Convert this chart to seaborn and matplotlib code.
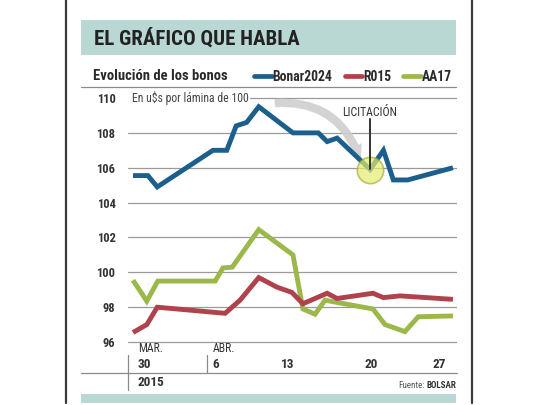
import matplotlib
matplotlib.use("Agg")
import matplotlib.pyplot as plt
import matplotlib.transforms as mtransforms
import seaborn as sns
import pandas as pd
from matplotlib.patches import Rectangle, FancyArrowPatch
from matplotlib.lines import Line2D

# ---- data (x = days since 30 March 2015) ----
bonar_days = [0, 1.35, 2.2, 7.25, 8.5, 9.35, 10.3, 11.4, 14.5, 16.8, 17.6, 18.5, 21.5, 22.7, 23.6, 24.9, 29.0]
bonar_vals = [105.55, 105.55, 104.9, 107.0, 107.0, 108.4, 108.6, 109.5, 108.0, 108.0, 107.5, 107.7, 105.9, 107.0, 105.3, 105.3, 106.0]

r015_days = [0, 1.25, 2.2, 8.35, 9.7, 11.4, 13.05, 14.4, 15.4, 17.6, 18.5, 21.75, 22.7, 24.2, 29.0]
r015_vals = [96.55, 97.0, 98.0, 97.65, 98.4, 99.7, 99.15, 98.85, 98.2, 98.8, 98.5, 98.8, 98.55, 98.65, 98.45]

aa17_days = [0, 1.25, 2.25, 7.45, 8.15, 9.0, 11.4, 14.5, 15.4, 16.5, 17.4, 21.75, 22.85, 24.65, 25.85, 29.0]
aa17_vals = [99.55, 98.35, 99.5, 99.5, 100.25, 100.3, 102.45, 101.0, 97.9, 97.6, 98.4, 97.9, 97.0, 96.6, 97.45, 97.5]

series_names = ["Bonar2024", "R015", "AA17"]
series_colors = ["#1b5f8c", "#b0424c", "#9cb84a"]

y_ticks = [96, 98, 100, 102, 104, 106, 108, 110]
x_label_days = [0.45, 7.2, 14.0, 21.6, 27.8]
x_label_top = ["MAR.", "ABR.", "", "", ""]
x_label_bottom = ["30", "6", "13", "20", "27"]

licitacion_day = 21.45
licitacion_val = 105.85

# ---- figure ----
sns.set_style("white")
plt.rcParams["font.family"] = ["Liberation Sans Narrow", "Roboto Condensed", "Liberation Sans", "DejaVu Sans"]

W, H = 540, 405
fig = plt.figure(figsize=(5.4, 4.05), dpi=100)
fig.patch.set_facecolor("white")

def fx(x):
    return x / W

def fy(y):
    return 1 - y / H

# outer frame lines
fig.add_artist(Line2D([fx(66), fx(66)], [fy(0), fy(403)], color="#3a3a3a", lw=1.6))
fig.add_artist(Line2D([fx(472), fx(472)], [fy(0), fy(403)], color="#3a3a3a", lw=1.6))

# header band
fig.add_artist(Rectangle((fx(81), fy(55)), fx(456) - fx(81), fy(20) - fy(55),
                         facecolor="#b9d8d4", edgecolor="none"))
fig.text(fx(94), fy(38), "EL GRÁFICO QUE HABLA", fontsize=15, fontweight="bold",
         color="#222222", va="center", ha="left")

# subtitle and rule
fig.text(fx(93), fy(76), "Evolución de los bonos", fontsize=10.5, fontweight="bold",
         color="#2a2a2a", va="center", ha="left")
fig.add_artist(Line2D([fx(81), fx(456)], [fy(87), fy(87)], color="#8a8a8a", lw=0.9))

# bottom band
fig.add_artist(Rectangle((fx(81), fy(403)), fx(456) - fx(81), fy(394) - fy(403),
                         facecolor="#b9d8d4", edgecolor="none"))

# axes
ax = fig.add_axes([fx(128), fy(352), fx(457) - fx(128), (352 - 90) / H])
ax.set_xlim(-0.453, 29.37)
ax.set_ylim(95.43, 110.46)
for s in ax.spines.values():
    s.set_visible(False)
ax.set_facecolor("none")

for v in y_ticks:
    xmin = 0.37 if v == 110 else 0.0
    ax.axhline(v, xmin=xmin, xmax=1.0, color="#9a9a9a", lw=0.9, zorder=1)

ax.set_yticks(y_ticks)
ax.set_yticklabels([str(v) for v in y_ticks], fontsize=9, fontweight="bold", color="#333333")
ax.tick_params(axis="y", length=0, pad=9)
ax.set_xticks([])

df = pd.concat([
    pd.DataFrame({"day": bonar_days, "val": bonar_vals, "bono": series_names[0]}),
    pd.DataFrame({"day": r015_days, "val": r015_vals, "bono": series_names[1]}),
    pd.DataFrame({"day": aa17_days, "val": aa17_vals, "bono": series_names[2]}),
], ignore_index=True)

palette = dict(zip(series_names, series_colors))
for name in ["AA17", "R015", "Bonar2024"]:
    sub = df[df["bono"] == name]
    sns.lineplot(data=sub, x="day", y="val", color=palette[name], lw=3.5,
                 ax=ax, legend=False, sort=False, zorder=3,
                 solid_joinstyle="miter", solid_capstyle="butt")
ax.set_xlabel("")
ax.set_ylabel("")

# units note
ax.text(-0.05, 110, "En u$s por lámina de 100", fontsize=8.5, color="#444444",
        va="center", ha="left")

# licitacion annotation
arrow = FancyArrowPatch((12.6, 109.7), (20.7, 106.25),
                        connectionstyle="arc3,rad=-0.4",
                        arrowstyle="simple,head_length=1.1,head_width=1.1,tail_width=0.6",
                        mutation_scale=10, color="#cfcfcf", alpha=0.9, zorder=2, lw=0)
ax.add_patch(arrow)
ax.scatter([licitacion_day], [licitacion_val], s=360, facecolor="#e6ec6e", alpha=0.7,
           edgecolor="#a4ae3a", linewidth=1.2, zorder=5)
ax.plot([licitacion_day, licitacion_day], [108.8, 105.95], color="#333333", lw=1.4, zorder=6)
ax.text(licitacion_day, 109.15, "LICITACIÓN", fontsize=8.5, color="#333333",
        ha="center", va="center", zorder=6)

# legend
handles = [Line2D([0], [0], color=c, lw=3.4) for c in series_colors]
leg = fig.legend(handles, series_names, loc="center right",
                 bbox_to_anchor=(fx(464), fy(77)), ncol=3, frameon=False,
                 handlelength=1.3, handletextpad=0.05, columnspacing=0.9,
                 prop={"size": 9.8, "weight": "bold"})
for t in leg.get_texts():
    t.set_color("#2a2a2a")

# x labels
blend = mtransforms.blended_transform_factory(ax.transData, fig.transFigure)
for d, top, bot in zip(x_label_days, x_label_top, x_label_bottom):
    ha = "left" if top else "center"
    if top:
        ax.text(d, fy(348), top, transform=blend,
                fontsize=8.5, color="#333333", ha=ha, va="center")
    ax.text(d, fy(365), bot, transform=blend,
            fontsize=9.5, fontweight="bold", color="#333333", ha=ha, va="center")

# x-axis rules
fig.add_artist(Line2D([fx(81), fx(457)], [fy(373), fy(373)], color="#8a8a8a", lw=0.9))
fig.add_artist(Line2D([fx(128), fx(128)], [fy(355), fy(390)], color="#8a8a8a", lw=0.9))
fig.add_artist(Line2D([fx(207), fx(207)], [fy(355), fy(373)], color="#8a8a8a", lw=0.9))
fig.text(fx(138), fy(383), "2015", fontsize=9.5, fontweight="bold", color="#333333",
         ha="left", va="center")
fig.text(fx(456), fy(386), "BOLSAR", fontsize=6.5, fontweight="bold", color="#333333",
         ha="right", va="center")
fig.text(fx(425), fy(386), "Fuente:", fontsize=6.5, color="#555555",
         ha="right", va="center")

fig.savefig("out.png", dpi=100, facecolor="white")
